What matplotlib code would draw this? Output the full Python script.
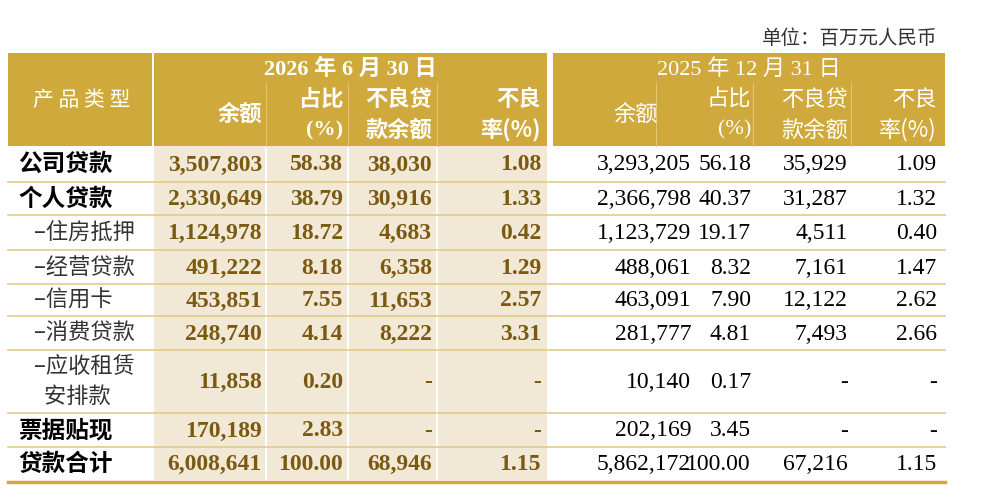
import matplotlib
matplotlib.use("Agg")
import matplotlib.pyplot as plt
from matplotlib.patches import Rectangle

row_labels = ["公司贷款", "个人贷款", "–住房抵押", "–经营贷款", "–信用卡", "–消费贷款", "–应收租赁\n  安排款", "票据贴现", "贷款合计"]
row_bold = [True, True, False, False, False, False, False, True, True]
bal_2026 = ["3,507,803", "2,330,649", "1,124,978", "491,222", "453,851", "248,740", "11,858", "170,189", "6,008,641"]
pct_2026 = ["58.38", "38.79", "18.72", "8.18", "7.55", "4.14", "0.20", "2.83", "100.00"]
npl_2026 = ["38,030", "30,916", "4,683", "6,358", "11,653", "8,222", "-", "-", "68,946"]
rate_2026 = ["1.08", "1.33", "0.42", "1.29", "2.57", "3.31", "-", "-", "1.15"]
bal_2025 = ["3,293,205", "2,366,798", "1,123,729", "488,061", "463,091", "281,777", "10,140", "202,169", "5,862,172"]
pct_2025 = ["56.18", "40.37", "19.17", "8.32", "7.90", "4.81", "0.17", "3.45", "100.00"]
npl_2025 = ["35,929", "31,287", "4,511", "7,161", "12,122", "7,493", "-", "-", "67,216"]
rate_2025 = ["1.09", "1.32", "0.40", "1.47", "2.62", "2.66", "-", "-", "1.15"]

GOLD = "#CFA93C"; BEIGE = "#F2E8D6"; LINE = "#E3CB8A"; DARK = "#7A5A10"
CJK = ["Noto Sans CJK SC", "DejaVu Sans"]
SERIF = ["Liberation Serif", "Noto Sans CJK SC"]
NUM = 17

fig = plt.figure(figsize=(9.85, 4.97), dpi=100)
ax = fig.add_axes([0, 0, 1, 1])
ax.set_xlim(0, 985); ax.set_ylim(497, 0); ax.axis("off")

L0, L1 = 8, 152
lcols = [(154, 265), (267, 347), (349, 436), (438, 547)]
rrights = [691, 751, 848, 937]
lrights = [262, 343, 432, 541]

hy0, hy1 = 53, 146
row_edges = [146, 182, 215, 250, 284, 316, 350, 413, 447, 480]

ax.add_patch(Rectangle((L0, hy0), L1 - L0, hy1 - hy0, color=GOLD, lw=0))
ax.add_patch(Rectangle((154, hy0), 547 - 154, hy1 - hy0, color=GOLD, lw=0))
ax.add_patch(Rectangle((553, hy0), 945 - 553, hy1 - hy0, color=GOLD, lw=0))
for x in [265, 347, 436, 655, 752, 850]:
    ax.plot([x + 0.5, x + 0.5], [83, hy1], color="#E2C670", lw=0.8)

for a, b in lcols:
    ax.add_patch(Rectangle((a, row_edges[0]), b - a, row_edges[-1] - row_edges[0], color=BEIGE, lw=0))

for y in row_edges[1:-1]:
    ax.plot([L0, 945], [y, y], color=LINE, lw=1.2)
ax.plot([L0, 945], [482, 482], color=GOLD, lw=2.5)

ax.text(937, 38, "单位：百万元人民币", ha="right", va="center", fontsize=14, family=CJK, color="#333333")

ax.text(82, 100, "产 品 类 型", ha="center", va="center", fontsize=15, family=CJK, color="white")
ax.text(350, 69, "2026 年 6 月 30 日", ha="center", va="center", fontsize=16, family=SERIF, weight="bold", color="white")
ax.text(749, 69, "2025 年 12 月 31 日", ha="center", va="center", fontsize=16, family=SERIF, color="white")
sub = [("余额", None), ("占比", "(%)"), ("不良贷", "款余额"), ("不良", "率(%)")]
for side, rights, bold in [(0, lrights, "bold"), (1, rrights, "normal")]:
    for i, (t1, t2) in enumerate(sub):
        xr = rights[i]
        if t2 is None:
            if side == 0:
                ax.text(xr, 114, t1, ha="right", va="center", fontsize=16, family=CJK, weight=bold, color="white")
            else:
                ax.text(636, 114, t1, ha="center", va="center", fontsize=16, family=CJK, weight=bold, color="white")
        else:
            ax.text(xr, 99, t1, ha="right", va="center", fontsize=16, family=CJK, weight=bold, color="white")
            ax.text(xr, 130, t2, ha="right", va="center", fontsize=16, family=SERIF if t2.startswith("(") else CJK,
                    weight=bold, color="white")

for r in range(len(row_labels)):
    yc = (row_edges[r] + row_edges[r + 1]) / 2
    lab = row_labels[r]
    if row_bold[r]:
        ax.text(18, yc, lab, ha="left", va="center", fontsize=17, family=CJK, weight="bold", color="black")
    else:
        ax.text(34, yc, lab, ha="left", va="center", fontsize=16, family=CJK, color="#333333", linespacing=1.35)
    for i, col in enumerate([bal_2026, pct_2026, npl_2026, rate_2026]):
        ax.text(lrights[i], yc + 1, col[r], ha="right", va="center", fontsize=NUM, family=SERIF, weight="bold", color=DARK)
    for i, col in enumerate([bal_2025, pct_2025, npl_2025, rate_2025]):
        ax.text(rrights[i], yc + 1, col[r], ha="right", va="center", fontsize=NUM, family=SERIF, color="black")

fig.savefig("out.png", dpi=100)
